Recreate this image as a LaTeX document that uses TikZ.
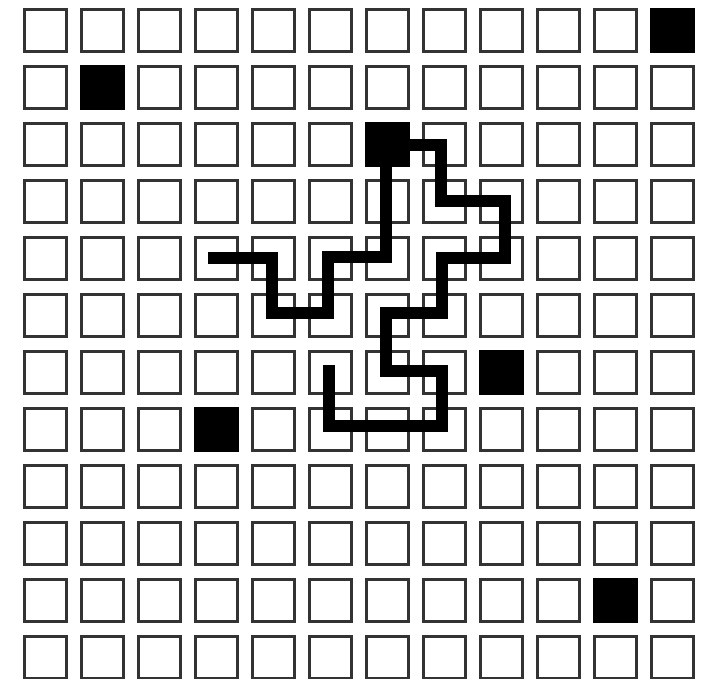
\documentclass[tikz,border=0pt]{standalone}
\begin{document}
\begin{tikzpicture}[x=1pt,y=-1pt,
  cell/.style={draw=black!80,line width=3pt,minimum width=42pt,minimum height=42pt,inner sep=0pt,fill=white},
  filled/.style={cell,fill=black,draw=black},
  walk/.style={line width=12pt,line join=miter,line cap=butt,draw=black}]
\useasboundingbox (0,0) rectangle (711,678);
\foreach \i in {0,...,11}{
  \foreach \j in {0,...,11}{
    \node[cell] (c-\i-\j) at ({45+57*\i},{30+57*\j}) {};
  }
}
\foreach \i/\j in {11/0,1/1,6/2,8/6,3/7,10/10}{
  \node[filled] at (c-\i-\j) {};
}
\coordinate (s) at (208,258);
\coordinate (e) at (329,365);
\draw[walk] (s) -- (272,258) -- (272,313) -- (328,313) -- (328,257) -- (386,257)
  -- (386,145) -- (441,145) -- (441,201) -- (505,201) -- (505,258) -- (442,258)
  -- (442,313) -- (386,313) -- (386,371) -- (442,371) -- (442,426) -- (329,426) -- (e);
\end{tikzpicture}
\end{document}
